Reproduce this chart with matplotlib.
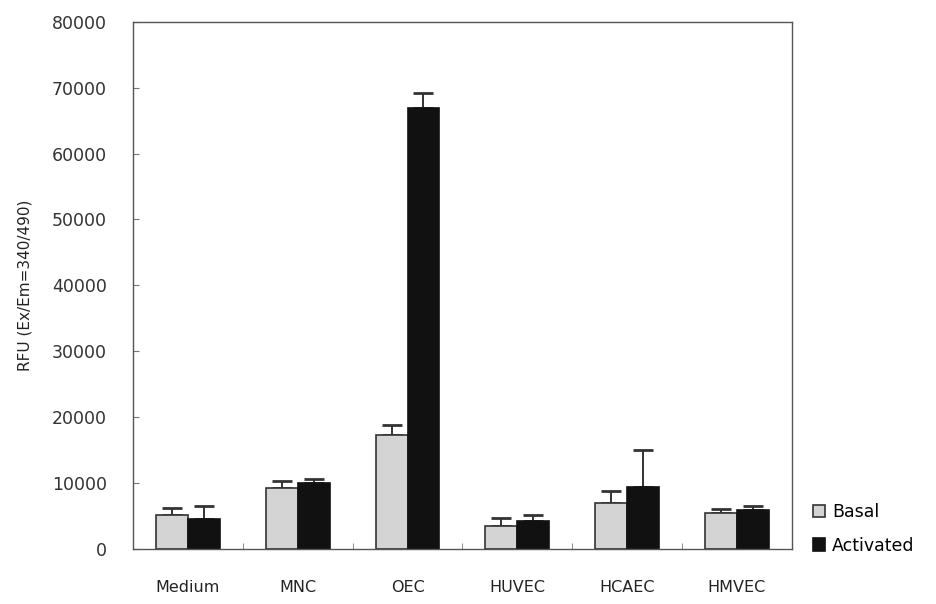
import matplotlib
matplotlib.use("Agg")
import matplotlib.pyplot as plt
import numpy as np

categories = ["Medium", "MNC", "OEC", "HUVEC", "HCAEC", "HMVEC"]
basal = [5200, 9300, 17300, 3500, 7000, 5500]
basal_err = [1000, 1000, 1500, 1200, 1800, 600]
activated = [4600, 10000, 66900, 4200, 9400, 5900]
activated_err = [1900, 600, 2300, 1000, 5600, 600]
yticks = [0, 10000, 20000, 30000, 40000, 50000, 60000, 70000, 80000]

plt.rcParams['font.family'] = ['DejaVu Sans']
fig = plt.figure(figsize=(9.37, 6.04), dpi=100)
ax = fig.add_axes([0.142, 0.091, 0.703, 0.873])

x = np.arange(len(categories))
w = 0.29
ax.bar(x - w/2, basal, w, color="#d4d4d4", edgecolor="#333333", linewidth=1.2,
       label="Basal", zorder=2)
ax.bar(x + w/2, activated, w, color="#111111", edgecolor="#111111", linewidth=1.2,
       label="Activated", zorder=2)
ax.errorbar(x - w/2, basal, yerr=[np.zeros(len(basal)), basal_err], fmt="none",
            ecolor="#333333", elinewidth=1.4, capsize=7, capthick=2, zorder=1)
ax.errorbar(x + w/2, activated, yerr=[np.zeros(len(activated)), activated_err], fmt="none",
            ecolor="#333333", elinewidth=1.4, capsize=7, capthick=2, zorder=1)

ax.set_xlim(-0.5, len(categories) - 0.5)
ax.set_ylim(0, 80000)
ax.set_yticks(yticks)
ax.set_yticklabels([str(v) for v in yticks], fontsize=12.5, color="#333333")
ax.set_xticks(x)
ax.set_xticklabels(categories, fontsize=11.5, color="#222222")
ax.tick_params(axis="x", length=0, pad=22)
ax.set_xticks(np.arange(len(categories) + 1) - 0.5, minor=True)
ax.tick_params(axis="x", which="minor", direction="in", length=4, color="#777777")
ax.tick_params(axis="y", direction="in", length=4, color="#777777", pad=19)
for s in ax.spines.values():
    s.set_color("#555555")
    s.set_linewidth(1.0)
ax.set_ylabel("RFU (Ex/Em=340/490)", fontsize=11, color="#222222", labelpad=14)

leg = ax.legend(loc="lower left", bbox_to_anchor=(1.008, -0.04), frameon=False,
                fontsize=12.5, handlelength=0.7, handleheight=0.7, handletextpad=0.4,
                labelspacing=0.9)

fig.savefig("out.png", dpi=100)
